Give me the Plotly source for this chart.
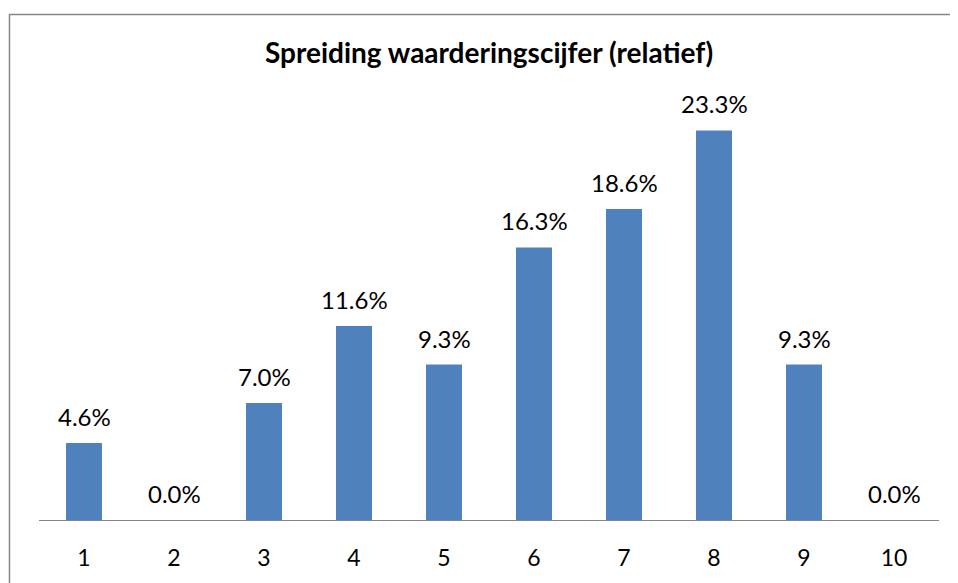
import plotly.graph_objects as go

categories = ["1", "2", "3", "4", "5", "6", "7", "8", "9", "10"]
values = [4.6, 0.0, 7.0, 11.6, 9.3, 16.3, 18.6, 23.3, 9.3, 0.0]
labels = [f"{v:.1f}%" for v in values]

FONT = "Lato, 'Open Sans', sans-serif"

# page body has an 8px margin, so the figure is 8px smaller than the window
W, H = 950, 575

fig = go.Figure(go.Bar(
    x=categories, y=values,
    marker=dict(color="#4F81BD", line=dict(width=0)),
    hoverinfo="skip",
))

annotations = [
    dict(x=i, y=v, xref="x", yref="y", text=t, showarrow=False,
         yanchor="bottom", xanchor="center", yshift=10,
         font=dict(family=FONT, size=24, color="#000000"))
    for i, (v, t) in enumerate(zip(values, labels))
]

fig.update_layout(
    width=W, height=H,
    margin=dict(l=31, r=19, t=93.5, b=61),
    paper_bgcolor="white", plot_bgcolor="white",
    bargap=0.6,
    showlegend=False,
    title=dict(text="<b>Spreiding waarderingscijfer (relatief)</b>",
               x=481 / W, xanchor="center", y=1 - 45 / H, yanchor="middle",
               font=dict(family=FONT, size=28, color="#000000")),
    xaxis=dict(type="category", showline=True, linecolor="#868686", linewidth=1,
               ticks="outside", ticklen=17, tickcolor="rgba(0,0,0,0)",
               tickfont=dict(family=FONT, size=23, color="#000000"),
               showgrid=False, zeroline=False),
    yaxis=dict(range=[0, 25], visible=False, showgrid=False, zeroline=False),
    annotations=annotations,
    shapes=[dict(type="path", xref="paper", yref="paper",
                 path="M -0.0328,-0.2 L -0.0328,1.2093 L 1.025,1.2093",
                 line=dict(color="#868686", width=1.5))],
)

fig.write_html("out.html", config={"displayModeBar": False})
